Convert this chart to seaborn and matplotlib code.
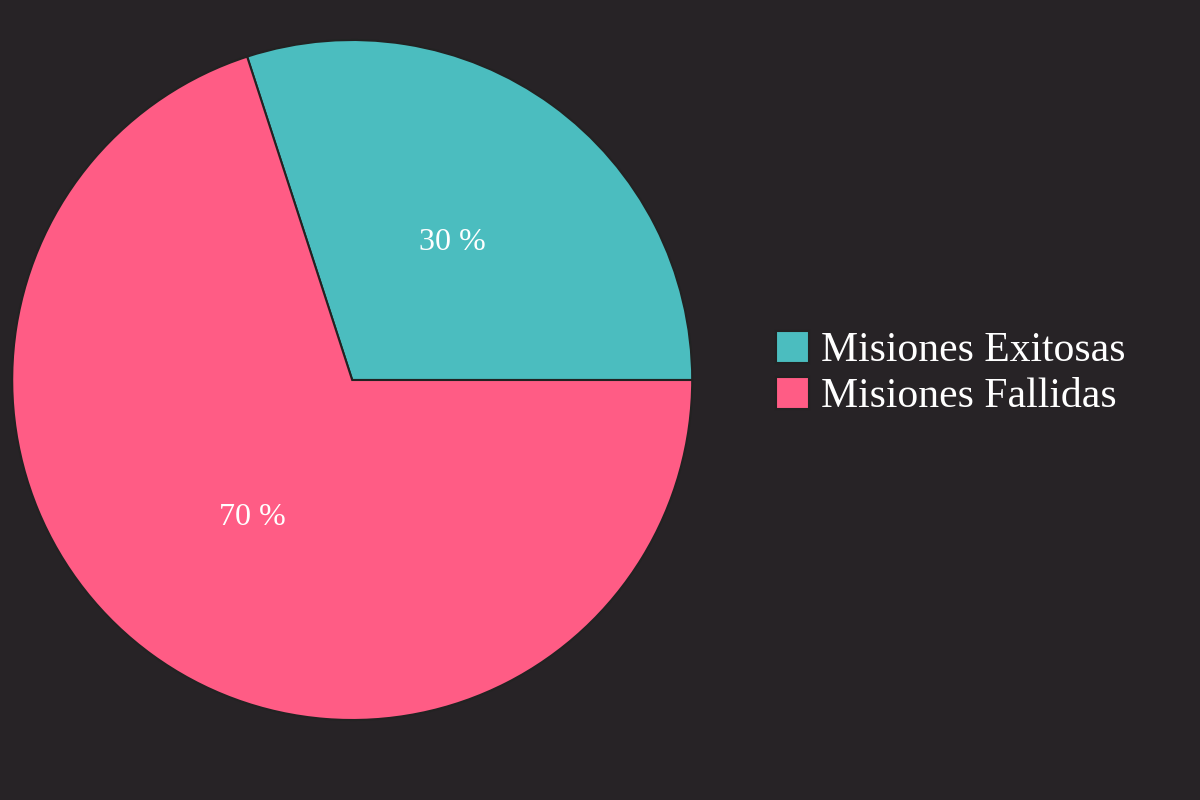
import matplotlib
matplotlib.use("Agg")
import matplotlib.pyplot as plt
import seaborn as sns

labels = ["Misiones Exitosas", "Misiones Fallidas"]
values = [30, 70]
colors = ["#4BBDBF", "#FF5C85"]
bg = "#272326"

sns.set_theme(style="dark")
plt.rcParams["font.family"] = ["Liberation Serif", "DejaVu Serif"]

fig = plt.figure(figsize=(12, 8), dpi=100, facecolor=bg)
ax = fig.add_axes([0.01, 0.1, 0.567, 0.85])
ax.set_facecolor(bg)

wedges, texts, autotexts = ax.pie(
    values, colors=colors, startangle=0, counterclock=True,
    autopct=lambda p: f"{p:.0f} %", pctdistance=0.5,
    wedgeprops=dict(edgecolor="#222222", linewidth=1.5),
    textprops=dict(color="white", fontsize=23),
)
ax.set_xlim(-1.0, 1.0)
ax.set_ylim(-1.0, 1.0)
ax.set_aspect("equal")

fig.legend(wedges, labels, loc="center left", bbox_to_anchor=(0.615, 0.533),
           frameon=False, fontsize=30, labelcolor="white",
           handlelength=0.8, handleheight=0.8, handletextpad=0.3,
           labelspacing=0.15)

fig.savefig("out.png", dpi=100, facecolor=bg)
